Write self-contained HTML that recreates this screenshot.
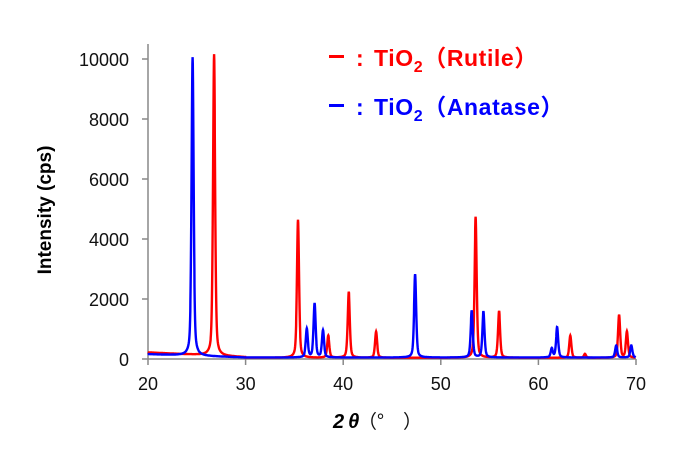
<!DOCTYPE html>
<html><head><style>
body{margin:0;background:#fff;width:680px;height:471px;overflow:hidden}
svg{font-family:"Liberation Sans","Noto Sans CJK JP",sans-serif}
</style></head><body>
<svg id="s" width="680" height="471" xmlns="http://www.w3.org/2000/svg">
<g stroke="#888" stroke-width="1.5" fill="none">
<line x1="148" y1="44" x2="148" y2="359"/>
<line x1="148" y1="359" x2="636" y2="359"/>
<line x1="142" y1="59" x2="148" y2="59"/>
<line x1="142" y1="119" x2="148" y2="119"/>
<line x1="142" y1="179" x2="148" y2="179"/>
<line x1="142" y1="239" x2="148" y2="239"/>
<line x1="142" y1="299" x2="148" y2="299"/>
<line x1="142" y1="359" x2="148" y2="359"/>
<line x1="148" y1="359" x2="148" y2="365"/>
<line x1="245.6" y1="359" x2="245.6" y2="365"/>
<line x1="343.2" y1="359" x2="343.2" y2="365"/>
<line x1="440.8" y1="359" x2="440.8" y2="365"/>
<line x1="538.4" y1="359" x2="538.4" y2="365"/>
<line x1="636" y1="359" x2="636" y2="365"/>
</g>
<g font-size="18" text-anchor="end" fill="#111">
<text x="129" y="66">10000</text><text x="129" y="126">8000</text>
<text x="129" y="186">6000</text><text x="129" y="246">4000</text>
<text x="129" y="306">2000</text><text x="129" y="366">0</text>
</g>
<g font-size="18" text-anchor="middle" fill="#111">
<text x="148" y="390">20</text><text x="245.6" y="390">30</text>
<text x="343.2" y="390">40</text><text x="440.8" y="390">50</text>
<text x="538.4" y="390">60</text><text x="636" y="390">70</text>
</g>
<text x="51" y="210" font-size="19" font-weight="bold" text-anchor="middle" transform="rotate(-90 51 210)">Intensity (cps)</text>
<text x="333" y="428" font-size="20" font-style="italic" font-weight="bold">2<tspan dx="4">θ</tspan></text>
<text x="358" y="428" font-size="19" fill="#111" font-family="Noto Sans CJK JP, sans-serif">（°　）</text>
<g font-size="23" font-weight="bold" fill="#f00">
<rect x="329" y="55" width="15" height="3"/>
<text x="356" y="66">:</text>
<text x="374" y="66" letter-spacing="0.6">TiO<tspan font-size="16" dy="6">2</tspan><tspan dy="-6" font-family="Noto Sans CJK JP">（</tspan><tspan font-family="Liberation Sans">Rutile</tspan><tspan font-family="Noto Sans CJK JP">）</tspan></text>
</g>
<g font-size="23" font-weight="bold" fill="#00f">
<rect x="329" y="104" width="15" height="3"/>
<text x="356" y="115">:</text>
<text x="374" y="115" letter-spacing="0.6">TiO<tspan font-size="16" dy="6">2</tspan><tspan dy="-6" font-family="Noto Sans CJK JP">（</tspan><tspan font-family="Liberation Sans">Anatase</tspan><tspan font-family="Noto Sans CJK JP">）</tspan></text>
</g>
<path id="r" fill="none" stroke="#f00" stroke-width="2.4"/>
<path id="b" fill="none" stroke="#00f" stroke-width="2.4"/>
</svg>
<script>
function X(d){return 147.7+(d-20)*9.76}
function Y(v){return 359-v*0.03}
function build(peaks,base){
 let s="";
 for(let d=20;d<=70.001;d+=0.02){
  let v=base(d);
  for(const [c,h] of peaks){const g=0.15;const t=(d-c)/g;v+=h*(0.5/(1+t*t*1.6)+0.5*Math.exp(-t*t*0.9));}
  s+=(s?"L":"M")+X(d).toFixed(1)+" "+Y(v).toFixed(1);
 }
 return s;
}
const red=[[26.8,10050],[35.4,4600],[38.5,740],[40.6,2200],[43.4,870],[53.6,4700],[56.0,1560],[63.3,740],[64.8,130],[68.3,1430],[69.1,870]];
const blue=[[24.6,9950],[36.3,950],[37.1,1800],[37.96,900],[47.4,2780],[53.2,1560],[54.4,1540],[61.4,300],[61.95,1010],[68.0,400],[69.55,400]];
document.getElementById("r").setAttribute("d",build(red,d=>d<30?220-(d-20)*16:40));
document.getElementById("b").setAttribute("d",build(blue,d=>d<30?160-(d-20)*11:50));
</script>
</body></html>
